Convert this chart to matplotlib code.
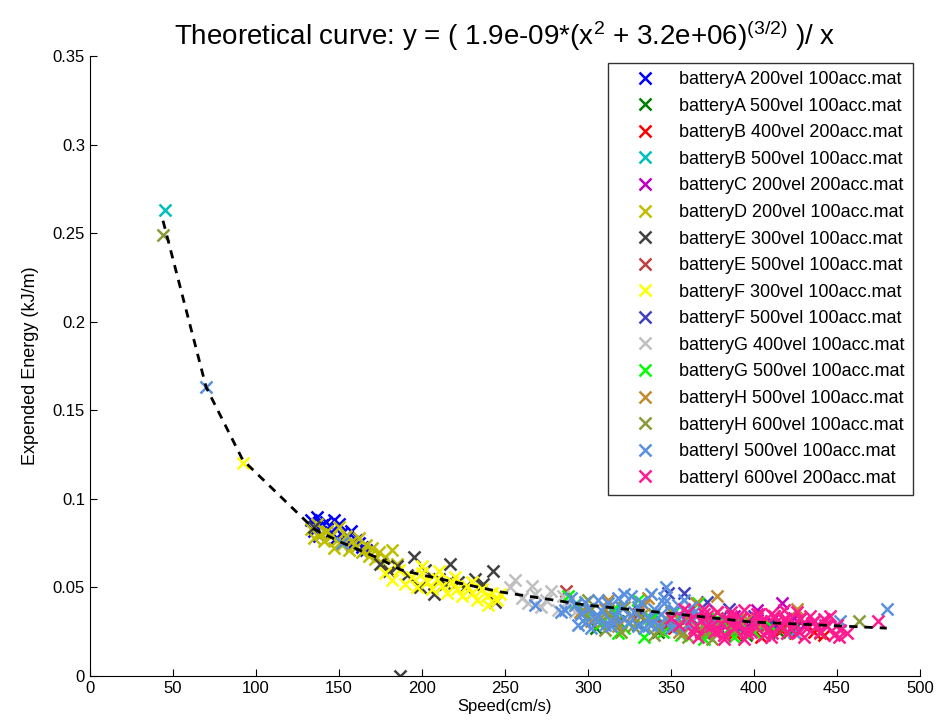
import matplotlib.pyplot as plt

plt.rcParams['font.family'] = ['Liberation Sans', 'DejaVu Sans']
plt.rcParams['mathtext.fontset'] = 'custom'
plt.rcParams['mathtext.rm'] = 'Liberation Sans'
plt.rcParams['mathtext.it'] = 'Liberation Sans'

# theoretical curve
curve_x = [44, 70, 92, 135, 150, 175, 187, 200, 247, 299, 348, 398, 446, 480]
curve_y = [0.257, 0.163, 0.122, 0.083, 0.076, 0.066, 0.060, 0.057, 0.0475, 0.040, 0.0355, 0.0305, 0.0285, 0.027]

labels = ['batteryA 200vel 100acc.mat', 'batteryA 500vel 100acc.mat', 'batteryB 400vel 200acc.mat',
          'batteryB 500vel 100acc.mat', 'batteryC 200vel 200acc.mat', 'batteryD 200vel 100acc.mat',
          'batteryE 300vel 100acc.mat', 'batteryE 500vel 100acc.mat', 'batteryF 300vel 100acc.mat',
          'batteryF 500vel 100acc.mat', 'batteryG 400vel 100acc.mat', 'batteryG 500vel 100acc.mat',
          'batteryH 500vel 100acc.mat', 'batteryH 600vel 100acc.mat', 'batteryI 500vel 100acc.mat',
          'batteryI 600vel 200acc.mat']

colors = ['#0000ff', '#008000', '#ff0000', '#00bfbf', '#bf00bf', '#bfbf00', '#404040', '#bf4040',
          '#ffff00', '#4040bf', '#c0c0c0', '#00ff00', '#c08a30', '#8a9a38', '#5a90e0', '#ff1a90']

a200_x = [133, 135, 137, 138, 140, 142, 143, 145, 147, 148, 150, 151, 153, 155, 157, 158, 160, 162, 164, 166]
a200_y = [.088, .082, .090, .079, .085, .087, .083, .081, .088, .078, .086, .080, .076, .079, .082, .074, .077, .075, .073, .071]

a500_x = [305, 318, 330, 342, 355, 362, 370, 378, 386, 395, 405, 415, 425]
a500_y = [.027, .031, .029, .025, .028, .033, .024, .030, .026, .023, .028, .025, .027]

b400_x = [345, 352, 360, 368, 372, 378, 383, 388, 392, 396, 400, 404, 408, 412, 416, 420, 425, 430, 436, 442]
b400_y = [.030, .027, .034, .025, .032, .036, .029, .024, .033, .027, .031, .022, .029, .034, .026, .030, .024, .028, .025, .023]

b500_x = [45, 315, 328, 340, 352, 365, 378, 390, 402]
b500_y = [.263, .036, .033, .035, .031, .034, .030, .032, .029]

c200_x = [372, 380, 388, 396, 402, 410, 417, 424, 430, 436]
c200_y = [.030, .026, .034, .028, .037, .031, .041, .033, .029, .031]

d200_x = [133, 135, 137, 139, 141, 143, 145, 147, 149, 150, 152, 154, 156, 158, 160, 162, 164, 166,
          168, 170, 172, 174, 176, 178, 182, 185]
d200_y = [.083, .078, .086, .080, .076, .082, .079, .072, .077, .084, .074, .079, .071, .076, .073, .078,
          .070, .074, .068, .072, .066, .070, .064, .067, .071, .063]

e300_x = [135, 175, 180, 185, 187, 191, 195, 199, 202, 207, 210, 214, 217, 222, 226, 232, 237, 243, 244]
e300_y = [.084, .063, .059, .062, .000, .057, .067, .050, .060, .046, .055, .052, .063, .053, .050, .055, .052, .059, .042]

e500_x = [287, 300, 315, 330, 345, 360, 372, 384, 396, 408, 418, 428, 440]
e500_y = [.048, .037, .030, .035, .028, .033, .026, .031, .024, .029, .027, .032, .024]

f300_x = [92, 178, 182, 186, 190, 194, 197, 200, 203, 206, 209, 212, 215, 218, 221, 224, 227, 230,
          233, 236, 239, 242, 245, 247, 200, 210, 220, 230, 240]
f300_y = [.120, .058, .054, .060, .052, .056, .050, .058, .053, .049, .055, .051, .047, .053, .049, .045,
          .051, .047, .043, .049, .045, .047, .043, .046, .062, .059, .056, .053, .040]

f500_x = [330, 338, 348, 352, 358, 366, 372, 378, 385, 392, 400, 410]
f500_y = [.037, .032, .047, .029, .047, .035, .042, .031, .038, .027, .034, .030]

g400_x = [253, 256, 260, 264, 266, 268, 272, 275, 278, 282, 285, 288, 292]
g400_y = [.050, .054, .044, .041, .051, .046, .039, .043, .048, .037, .045, .041, .036]

g500_x = [288, 293, 300, 308, 315, 322, 330, 338, 345, 352, 360, 366, 372, 378, 385, 392, 400, 410, 420,
          318, 334, 356, 370, 388]
g500_y = [.045, .041, .034, .030, .038, .027, .043, .032, .025, .036, .029, .041, .023, .033, .027, .030, .025, .028, .024,
          .024, .022, .023, .021, .022]

h500_x = [295, 302, 310, 318, 326, 334, 342, 350, 358, 365, 372, 378, 388, 396, 404, 426, 312, 336, 355]
h500_y = [.036, .031, .038, .028, .034, .040, .029, .036, .033, .041, .030, .045, .026, .032, .029, .038, .043, .044, .025]

h600_x = [44, 292, 297, 302, 307, 312, 317, 322, 327, 332, 337, 342, 347, 352, 357, 362, 367, 372, 377, 382, 388, 463,
          300, 310, 320, 340, 360, 375]
h600_y = [.249, .040, .036, .038, .033, .035, .031, .039, .028, .034, .030, .026, .032, .028, .024, .031, .027,
          .025, .029, .023, .026, .031, .043, .026, .025, .023, .022, .021]

i500_x = [70, 152, 268, 284, 286, 292, 296, 300, 304, 308, 312, 316, 320, 324, 328, 332, 336, 340, 344, 347,
          348, 352, 356, 360, 364, 368, 375, 424, 452, 480, 310, 330, 350,
          290, 294, 298, 302, 306, 314, 318, 322, 326, 334, 338, 342, 346, 354, 358, 362, 366, 298, 306, 314,
          322, 330, 338, 346, 354]
i500_y = [.163, .075, .040, .036, .037, .040, .035, .038, .032, .037, .041, .034, .039, .030, .036, .042, .033,
          .038, .035, .050, .031, .037, .034, .029, .036, .032, .030, .025, .031, .038, .029, .028, .027,
          .044, .029, .042, .027, .043, .028, .044, .033, .045, .027, .046, .029, .041, .028, .043, .039, .035,
          .030, .034, .031, .046, .039, .029, .044, .040]

i600_x = [350, 355, 360, 364, 368, 372, 376, 380, 384, 388, 392, 396, 400, 404, 408, 412, 416, 420, 424, 428,
          432, 436, 440, 444, 448, 452, 475, 366, 374, 382, 390, 398, 406, 414, 422, 430, 438, 370, 386, 402, 418,
          358, 362, 370, 378, 386, 394, 402, 410, 418, 426, 434, 442, 450, 456, 363, 371, 379, 387, 395, 403,
          411, 419, 427, 435, 443, 451, 446, 382, 394, 410]
i600_y = [.033, .029, .036, .027, .031, .034, .025, .030, .033, .027, .032, .024, .029, .031, .026, .034, .028,
          .024, .030, .033, .027, .031, .025, .028, .023, .026, .031, .022, .028, .023, .029, .025, .023, .031,
          .027, .022, .029, .038, .036, .035, .037,
          .038, .032, .035, .036, .034, .037, .033, .035, .032, .036, .034, .032, .029, .024, .024, .028, .026,
          .030, .026, .035, .024, .032, .025, .030, .029, .022, .034, .021, .021, .022]

series_x = [a200_x, a500_x, b400_x, b500_x, c200_x, d200_x, e300_x, e500_x, f300_x, f500_x, g400_x, g500_x,
            h500_x, h600_x, i500_x, i600_x]
series_y = [a200_y, a500_y, b400_y, b500_y, c200_y, d200_y, e300_y, e500_y, f300_y, f500_y, g400_y, g500_y,
            h500_y, h600_y, i500_y, i600_y]

fig = plt.figure(figsize=(9.49, 7.26), dpi=100)
ax = fig.add_axes([0.0948, 0.0689, 0.8746, 0.854])

for xs, ys, c, lab in zip(series_x, series_y, colors, labels):
    ax.plot(xs, ys, 'x', color=c, markersize=9, markeredgewidth=1.8, label=lab)

ax.plot(curve_x, curve_y, '--', color='black', linewidth=2, dashes=(3, 2.5))

ax.set_xlim(0, 500)
ax.set_ylim(0, 0.35)
ax.set_xticks(range(0, 501, 50))
ax.set_yticks([0, 0.05, 0.1, 0.15, 0.2, 0.25, 0.3, 0.35])
ax.set_yticklabels(['0', '0.05', '0.1', '0.15', '0.2', '0.25', '0.3', '0.35'])
ax.spines['top'].set_visible(False)
ax.spines['right'].set_visible(False)
ax.tick_params(direction='in', length=5, labelsize=12)

ax.set_xlabel('Speed(cm/s)', fontsize=12, labelpad=2)
ax.set_ylabel('Expended Energy (kJ/m)', fontsize=13, labelpad=10)
ax.set_title(r'Theoretical curve: y = ( 1.9e-09*(x$^2$ + 3.2e+06)$^{\mathrm{(3/2)}}$ )/ x', fontsize=20, pad=8)

leg = ax.legend(loc='upper right', bbox_to_anchor=(0.9916, 0.9887), fontsize=13, frameon=True,
                fancybox=False, edgecolor='black', handlelength=3.2, handletextpad=0.3,
                labelspacing=0.53, borderpad=0.45, borderaxespad=0)
leg.get_frame().set_linewidth(1)

fig.savefig('out.png', dpi=100)
